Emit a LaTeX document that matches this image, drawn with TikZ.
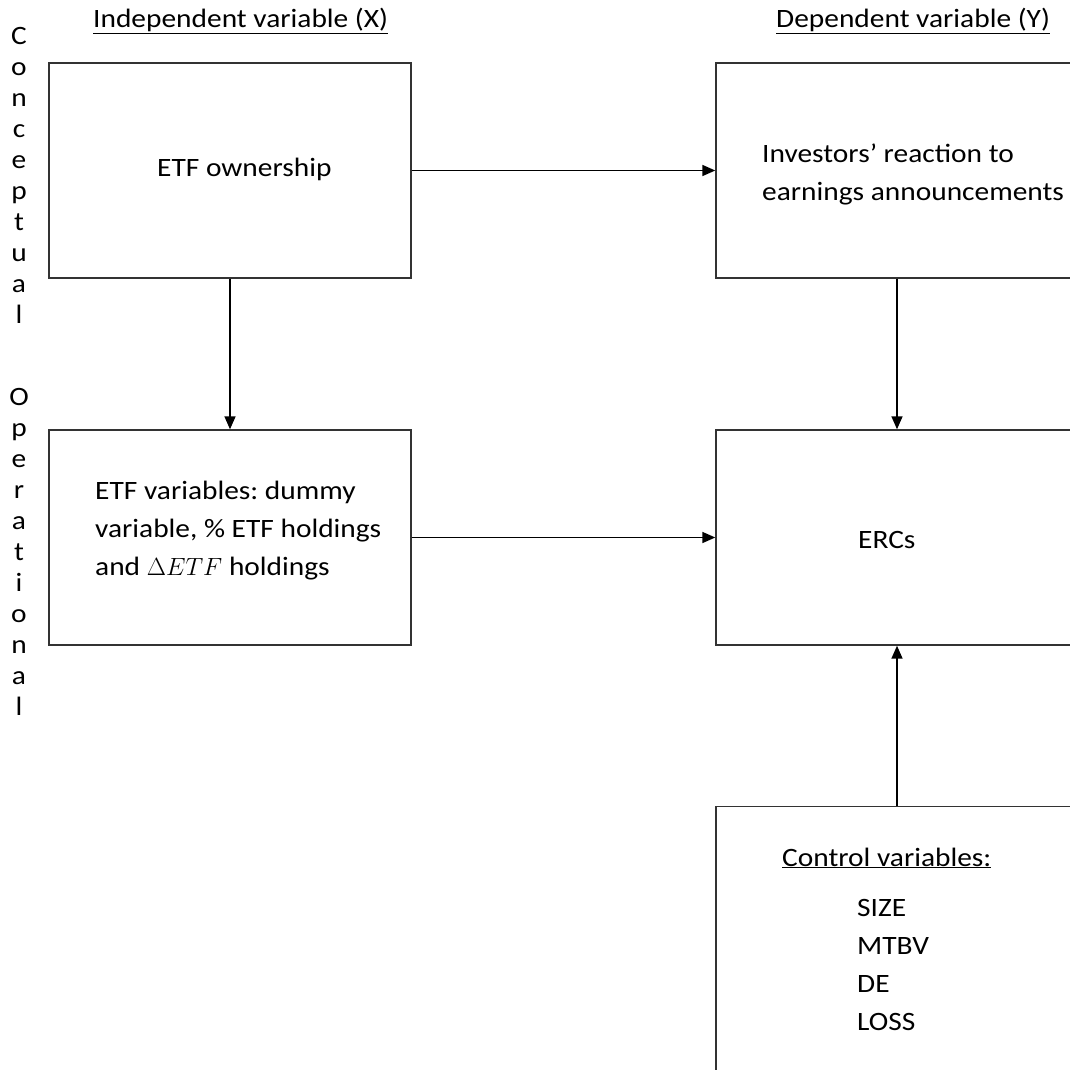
\documentclass[tikz,border=0pt]{standalone}
\usepackage{fontspec}
\setmainfont{Carlito}[FakeStretch=1.11]
\usetikzlibrary{arrows.meta}
\frenchspacing

\begin{document}
\begin{tikzpicture}[x=1pt,y=1pt,
  every node/.style={inner sep=0pt,font=\fontsize{26.5}{38}\selectfont},
  box/.style={draw=black!80,line width=1.4pt,minimum width=362pt,minimum height=215pt},
  txt/.style={anchor=base west,align=left},
  vword/.style={anchor=base,align=center,font=\fontsize{26.5}{31}\selectfont},
  conn/.style={line width=1.6pt,-{Triangle[length=13pt,width=11pt]}}]
\useasboundingbox (0,0) rectangle (1069,-1070);
% headings
\node [txt] (hx) at (93,-28) {\underline{Independent variable (X)}};
\node [txt] (hy) at (776,-28) {\underline{Dependent variable (Y)}};
\node [vword] (concept) at (19,-323) {C\\o\\n\\c\\e\\p\\t\\u\\a\\l};
\node [vword] (oper) at (19,-715) {O\\p\\e\\r\\a\\t\\i\\o\\n\\a\\l};
% boxes
\node [box] (own) at (230,-170.5) {};
\node [box] (inv) at (897,-170.5) {};
\node [box] (etfv) at (230,-537.5) {};
\node [box] (erc) at (897,-537.5) {};
\node [box,anchor=north,minimum height=300pt] (ctrl) at (897,-806) {};
% box texts
\node [txt] (ownt) at (157,-176) {ETF ownership};
\node [txt] (invt) at (762,-200) {Investors’ reaction to\\earnings announcements};
\node [txt] (etfvt) at (95,-575) {ETF variables: dummy\\variable, \% ETF holdings\\and $\Delta ETF$ holdings};
\node [txt] (erct) at (858,-548) {ERCs};
\node [txt] (ctrlt) at (782,-1030) {\underline{Control variables:}\\[12pt]
  \hspace*{75pt}SIZE\\\hspace*{75pt}MTBV\\\hspace*{75pt}DE\\\hspace*{75pt}LOSS};
% arrows
\draw [conn] (own.east) -- (inv.west);
\draw [conn] (own.south) -- (etfv.north);
\draw [conn] (inv.south) -- (erc.north);
\draw [conn] (etfv.east) -- (erc.west);
\draw [conn] (ctrl.north) -- (erc.south);
\end{tikzpicture}
\end{document}
